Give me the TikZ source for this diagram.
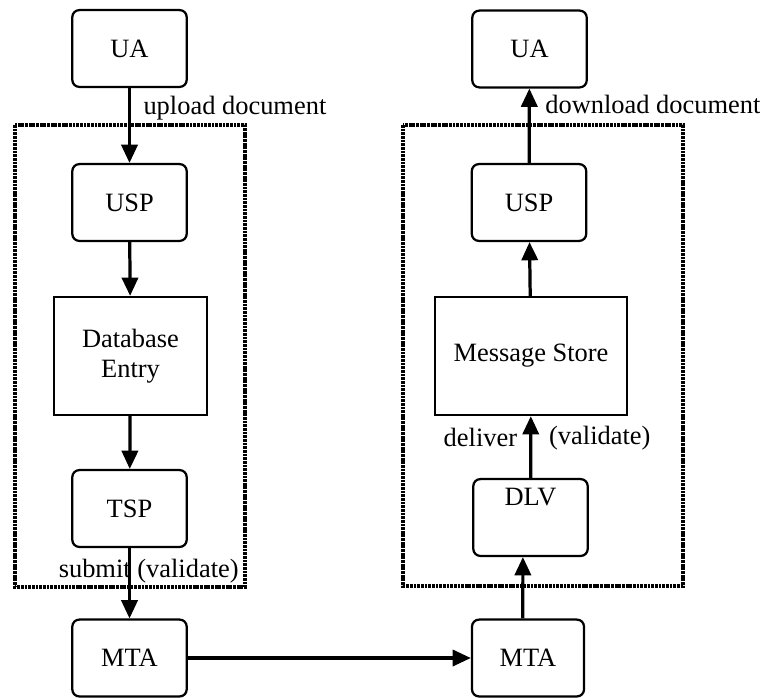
\documentclass[tikz,border=0pt]{standalone}
\usepackage{fontspec}
\setmainfont{Liberation Serif}
\usetikzlibrary{arrows.meta}
\tikzstyle{proc} = [draw, line width=1.6pt, rounded corners=5pt, minimum width=2.86cm, minimum height=1.92cm, inner sep=0pt, align=center]
\tikzstyle{store} = [draw, line width=1.6pt, minimum height=2.95cm, inner sep=0pt, align=center]
\tikzstyle{grp} = [line width=2.4pt, dash pattern=on 2pt off 0.6pt]
\tikzstyle{flow} = [->, line width=2.3pt]
\tikzstyle{lbl} = [inner sep=0pt]

\begin{document}
\begin{tikzpicture}[x=0.025cm, y=-0.025cm, >={Triangle[length=13pt,width=11.5pt]}, font=\fontsize{18.8}{21.5}\selectfont]

    \useasboundingbox (0,0) rectangle (760,697);

    % dotted groups
    \draw[grp] (15,125) rectangle (245,587);
    \draw[grp] (403,125) rectangle (683,586);

    % sending side
    \node[proc] (uaL) at (129.5,48.5) {UA};
    \node[proc] (uspL) at (129.5,202.5) {USP};
    \node[store, minimum width=3.83cm] (dbe) at (130.5,356) {Database\\Entry};
    \node[proc] (tsp) at (129.5,508.5) {TSP};
    \node[proc] (mtaL) at (129.5,658) {MTA};

    % receiving side
    \node[proc] (uaR) at (529.5,49) {UA};
    \node[proc] (uspR) at (529,202.5) {USP};
    \node[store, minimum width=4.8cm] (msg) at (531,356) {Message Store};
    \node[proc] (dlv) at (530.5,517.5) {DLV\\[1pt]\strut};
    \node[proc, minimum width=2.8cm] (mtaR) at (528,658) {MTA};

    % flows
    \draw[flow] (uaL) -- node[lbl, pos=0.27, anchor=west, xshift=0.31cm] {upload document} (uspL);
    \draw[flow] (uspL) -- (dbe);
    \draw[flow] (dbe) -- (tsp);
    \draw[flow] (tsp) -- node[lbl, pos=0.33, xshift=0.48cm] {submit (validate)} (mtaL);
    \draw[flow] (mtaL) -- (mtaR);
    \draw[flow] ([xshift=-0.13cm]mtaR.north) -- ([xshift=-0.19cm]dlv.south);
    \draw[flow] (dlv) -- node[lbl, pos=0.65, anchor=east, xshift=-0.3cm] {deliver}
        node[lbl, pos=0.65, anchor=west, xshift=0.42cm] {(validate)} (msg);
    \draw[flow] (msg) -- (uspR);
    \draw[flow] (uspR) -- node[lbl, pos=0.78, anchor=west, xshift=0.36cm] {download document} (uaR);

\end{tikzpicture}
\end{document}
